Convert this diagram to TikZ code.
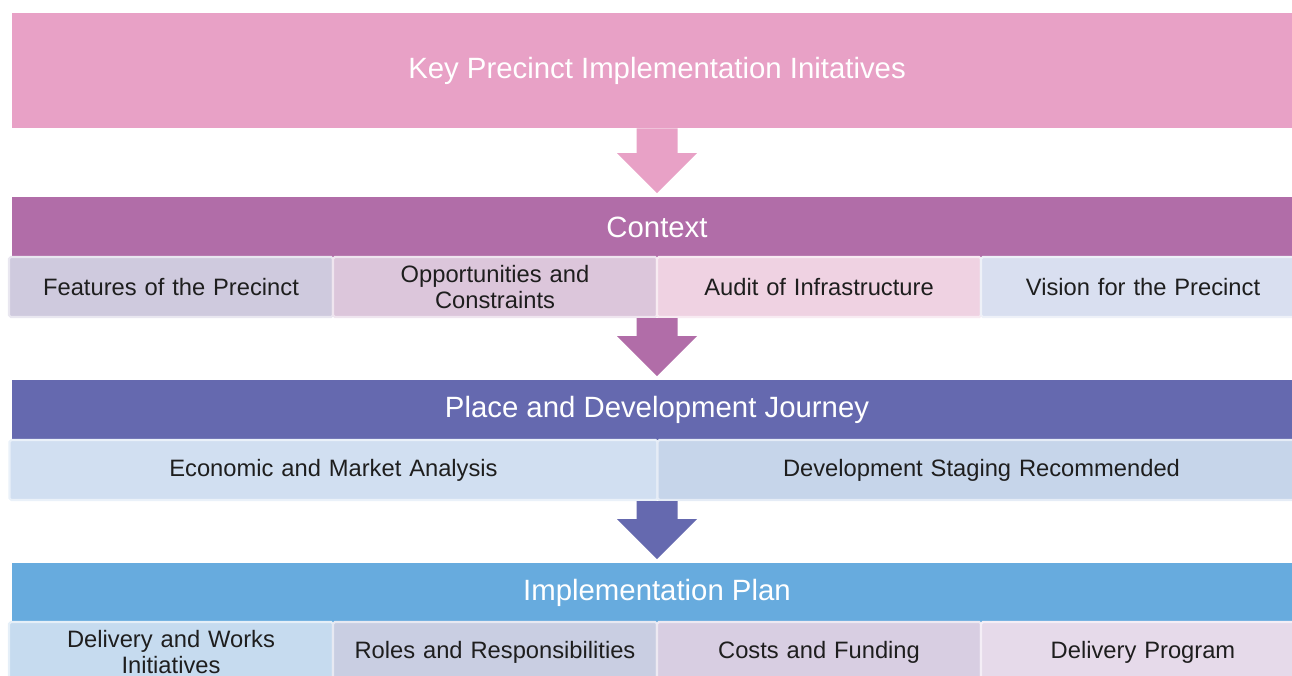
\documentclass[tikz,border=0pt]{standalone}
\usepackage{fontspec}
\setmainfont{Liberation Sans}
\usetikzlibrary{calc}

\definecolor{keypink}{HTML}{E8A1C6}
\definecolor{ctxplum}{HTML}{B16DA8}
\definecolor{placeblue}{HTML}{6569AF}
\definecolor{implsky}{HTML}{67ABDE}
\definecolor{subA}{HTML}{CFCADE}
\definecolor{subB}{HTML}{DCC6DB}
\definecolor{subC}{HTML}{EFD2E2}
\definecolor{subD}{HTML}{D9DFF0}
\definecolor{subE}{HTML}{D1DFF1}
\definecolor{subF}{HTML}{C6D5EA}
\definecolor{subG}{HTML}{C6DBEF}
\definecolor{subH}{HTML}{C9CEE2}
\definecolor{subI}{HTML}{D8CEE2}
\definecolor{subJ}{HTML}{E6DAEA}
\definecolor{subtext}{HTML}{1E1E1E}

% block arrow from the bottom of one node down to the top of the next
\newcommand{\blockdown}[3]{%
  \fill[#3] let \p1=(#1.south -| ax), \p2=($(#2.north -| ax)+(0,0.07)$) in
    (\x1-0.41cm,\y1) -- (\x1+0.41cm,\y1) -- (\x1+0.41cm,\y2+0.8cm)
    -- (\x1+0.8cm,\y2+0.8cm) -- (\x2,\y2) -- (\x1-0.8cm,\y2+0.8cm)
    -- (\x1-0.41cm,\y2+0.8cm) -- cycle;}

\begin{document}
\begin{tikzpicture}[
    bar/.style={fill=#1, minimum width=25.8cm, minimum height=1.2cm, text=white,
                font=\fontsize{16.7}{19}\selectfont, inner sep=0pt},
    sub/.style={fill=#1, draw=#1!45!white, line width=1.2pt, rounded corners=1pt,
                minimum width=6.48cm, minimum height=1.2cm, text width=6.2cm,
                align=center, text=subtext, inner sep=0pt,
                font=\fontsize{13.5}{14.5}\selectfont}]
  \useasboundingbox (0,0) rectangle (25.84,13.5);
  \coordinate (ax) at (13.14,0);

  % Heading
  \node[bar=keypink, minimum height=2.3cm] (key) at (13.14,12.09)
       {Key Precinct Implementation Initatives};

  % Context
  \node[bar=ctxplum] (ctx) at (13.14,8.96) {Context};
  \node[sub=subA] (ctxa) at (3.42,7.76) {Features of the Precinct};
  \node[sub=subB] (ctxb) at (9.90,7.76) {Opportunities and\\Constraints};
  \node[sub=subC] (ctxc) at (16.38,7.76) {Audit of Infrastructure};
  \node[sub=subD] (ctxd) at (22.86,7.76) {Vision for the Precinct};

  % Place and development
  \node[bar=placeblue] (place) at (13.14,5.3) {Place and Development Journey};
  \node[sub=subE, minimum width=12.96cm, text width=12cm] (placea) at (6.67,4.1)
       {Economic and Market Analysis};
  \node[sub=subF, minimum width=12.96cm, text width=12cm] (placeb) at (19.63,4.1)
       {Development Staging Recommended};

  % Implementation
  \node[bar=implsky] (impl) at (13.14,1.64) {Implementation Plan};
  \node[sub=subG] (impla) at (3.42,0.46) {Delivery and Works\\Initiatives};
  \node[sub=subH] (implb) at (9.90,0.46) {Roles and Responsibilities};
  \node[sub=subI] (implc) at (16.38,0.46) {Costs and Funding};
  \node[sub=subJ] (impld) at (22.86,0.46) {Delivery Program};

  % arrows between the stages
  \blockdown{key}{ctx}{keypink}
  \blockdown{ctxb}{place}{ctxplum}
  \blockdown{placea}{impl}{placeblue}
\end{tikzpicture}
\end{document}
